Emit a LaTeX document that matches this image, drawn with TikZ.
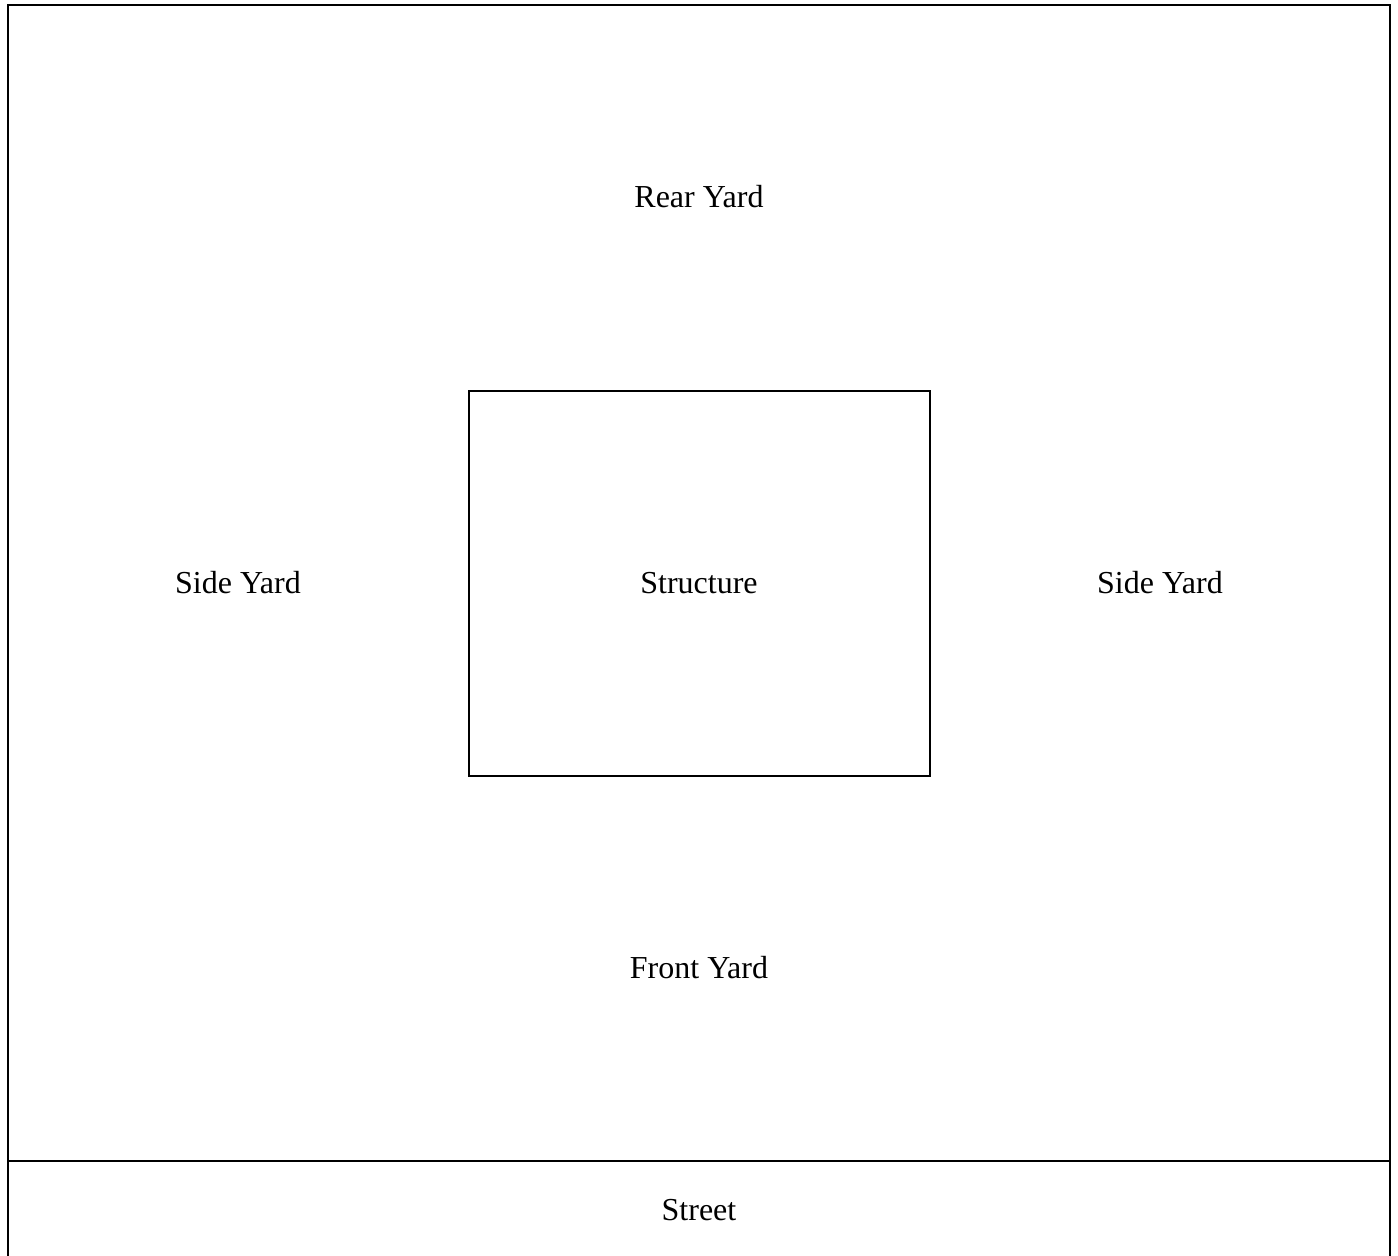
\documentclass[tikz,border=0pt]{standalone}
\usepackage{fontspec}
\setmainfont{Liberation Serif}
\begin{document}
\begin{tikzpicture}[x=0.5pt,y=-0.5pt,
  line/.style={draw=black,line width=1pt},
  lbl/.style={font=\fontsize{16}{19}\selectfont,text=black,inner sep=0pt}]
\useasboundingbox (0,0) rectangle (1398,1255);
\fill[white] (0,0) rectangle (1398,1255);
% lot boundary
\draw[line] (8,1260) -- (8,5) -- (1390,5) -- (1390,1260);
\draw[line] (8,1161) -- (1390,1161);
% structure
\node[line,rectangle,minimum width=230.5pt,minimum height=192.5pt,inner sep=0pt] (structure) at (699.5,583.5) {};
\node[lbl] (structurelbl) at (699,583) {Structure};
\node[lbl] (rear) at (699,197) {Rear Yard};
\node[lbl] (sideleft) at (238,583) {Side Yard};
\node[lbl] (sideright) at (1160,583) {Side Yard};
\node[lbl] (front) at (699,968) {Front Yard};
\node[lbl] (street) at (699,1210) {Street};
\end{tikzpicture}
\end{document}
